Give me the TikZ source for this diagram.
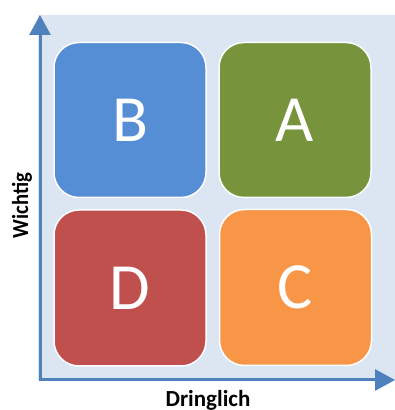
\documentclass[tikz,border=0pt]{standalone}
\usepackage{fontspec}
\setmainfont{Carlito}
\usetikzlibrary{arrows.meta}
\definecolor{bgblue}{HTML}{DCE6F2}
\definecolor{axisblue}{HTML}{4F81BD}
\definecolor{qB}{HTML}{558ED5}
\definecolor{qA}{HTML}{77933C}
\definecolor{qD}{HTML}{C0504D}
\definecolor{qC}{HTML}{F79646}
\begin{document}
\begin{tikzpicture}[x=1pt,y=1pt,
  quad/.style={draw=white,line width=1.5pt,rounded corners=25pt,minimum width=152pt,minimum height=155pt,inner sep=0pt,text=white,font=\fontsize{66}{70}\selectfont},
  axis/.style={axisblue,line width=3pt,-{Triangle[width=21pt,length=20pt]}},
  lbl/.style={font=\bfseries\fontsize{23}{26}\selectfont,text=black,inner sep=0pt}]
\useasboundingbox (0,0) rectangle (395,410);
\fill[bgblue] (38,30) rectangle (395,395);
\node[quad,fill=qB] (B) at (130,290) {B};
\node[quad,fill=qA] (A) at (295,290) {A};
\node[quad,fill=qD,minimum height=156pt] (D) at (130,122) {D};
\node[quad,fill=qC,minimum height=156pt] (C) at (295.5,122.5) {C};
\coordinate (O) at (40,30);
\coordinate (Ytip) at (40,395);
\coordinate (Xtip) at (395,30);
\draw[axis,line cap=rect] (O) -- (Ytip);
\draw[axis,line cap=rect] (O) -- (Xtip);
\node[lbl,anchor=base] (dr) at (208,4) {Dringlich};
\node[lbl,anchor=base,rotate=90,xscale=0.9] (wi) at (28,204.5) {Wichtig};
\end{tikzpicture}
\end{document}
